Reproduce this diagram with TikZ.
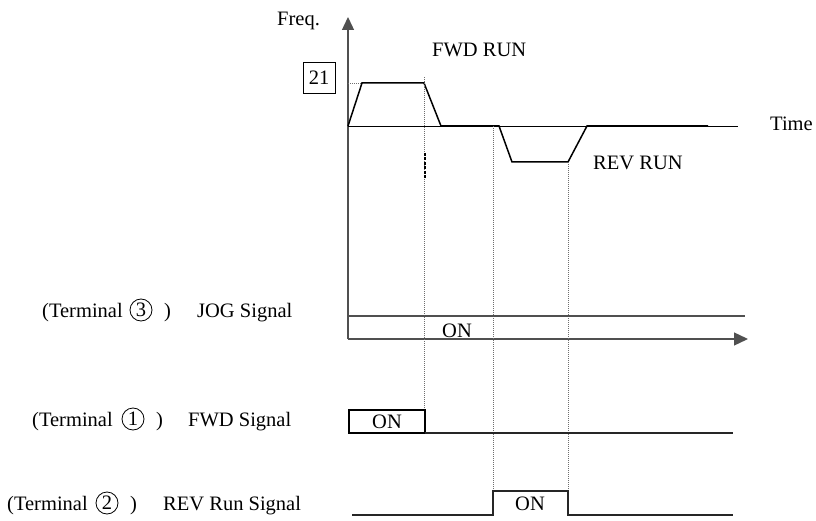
\documentclass[tikz,border=0pt]{standalone}
\usepackage{fontspec}
\setmainfont{Liberation Serif}
\usetikzlibrary{arrows.meta}
\definecolor{axisgray}{RGB}{80,80,80}
\definecolor{dotgray}{RGB}{110,110,110}
\begin{document}
\begin{tikzpicture}[x=1pt,y=-1pt,
  txt/.style={font=\fontsize{20.5}{24}\selectfont, inner sep=0pt, anchor=base west},
  ctxt/.style={font=\fontsize{20.5}{24}\selectfont, inner sep=0pt, anchor=base},
  circ/.style={circle, draw, line width=0.8pt, minimum size=22pt, inner sep=0pt, font=\fontsize{20.5}{24}\selectfont},
  axisline/.style={draw=axisgray, line width=1.3pt},
  trace/.style={draw=black, line width=1.5pt},
  guide/.style={draw=dotgray, line width=0.8pt, dash pattern=on 1pt off 1pt},
  sigline/.style={draw=black!85, line width=1.4pt},
]
\useasboundingbox (0,0) rectangle (816,521);

% axes
\coordinate (O) at (348,339);
\coordinate (Ytop) at (348,17);
\coordinate (Xend) at (748,339);
\draw[axisline,-{Triangle[length=13pt,width=12pt]}] (O) -- (Ytop);
\draw[axisline,-{Triangle[length=14pt,width=13pt]}] (O) -- (Xend);
\node[txt] (freq) at (277,26) {Freq.};

% time line
\coordinate (t0) at (348,126);
\coordinate (t1) at (738,126);
\draw[black, line width=0.8pt] (t0) -- (t1);
\node[txt] (time) at (770,131) {Time};

% frequency trace
\coordinate (f0) at (348,126);
\coordinate (f1) at (362,83);
\coordinate (f2) at (424,83);
\coordinate (f3) at (441,126);
\coordinate (r0) at (499,126);
\coordinate (r1) at (512,162);
\coordinate (r2) at (568,162);
\coordinate (r3) at (587,126);
\coordinate (r4) at (708,126);
\draw[trace] (f0) -- (f1) -- (f2) -- (f3) -- (r0) -- (r1) -- (r2) -- (r3) -- (r4);

\node[draw, line width=0.8pt, minimum width=32pt, minimum height=31pt, inner sep=0pt,
      font=\fontsize{20.5}{24}\selectfont] (b21) at (319,77.5) {21};
\coordinate (ya) at (348,83);
\draw[guide] (ya) -- (f1);

\node[txt] (fwdrun) at (432,57) {FWD RUN};
\node[txt] (revrun) at (593,170) {REV RUN};

% guide lines
\coordinate (g1t) at (424,77);
\coordinate (g1b) at (424,410);
\coordinate (g2t) at (493,126);
\coordinate (g2b) at (493,491);
\coordinate (g3t) at (568,162);
\coordinate (g3b) at (568,491);
\draw[guide] (g1t) -- (g1b);
\draw[guide] (g2t) -- (g2b);
\draw[guide] (g3t) -- (g3b);
\coordinate (k1) at (425,153);
\coordinate (k2) at (425,180);
\draw[black, line width=1.6pt, dash pattern=on 3pt off 1.5pt] (k1) -- (k2);

% JOG signal
\coordinate (j0) at (348,316);
\coordinate (j1) at (745,316);
\draw[sigline, draw=axisgray] (j0) -- (j1);
\node[ctxt] (jogon) at (457,337) {ON};
\node[txt] (l3a) at (42,317) {(Terminal};
\node[circ] (c3) at (141,310) {3};
\node[txt] (l3b) at (164,317) {)};
\node[txt] (l3c) at (197,317) {JOG Signal};

% FWD signal
\coordinate (a0) at (349,433);
\coordinate (a1) at (349,410);
\coordinate (a2) at (425,410);
\coordinate (a3) at (425,433);
\coordinate (a4) at (733,433);
\draw[black, line width=1.2pt] (a0) -- (a1) -- (a2) -- (a3) -- cycle;
\draw[sigline] (a3) -- (a4);
\node[ctxt] (fwdon) at (387,428) {ON};
\node[txt] (l1a) at (32,426) {(Terminal};
\node[circ] (c1) at (133,419) {1};
\node[txt] (l1b) at (156,426) {)};
\node[txt] (l1c) at (188,426) {FWD Signal};

% REV signal
\coordinate (s0) at (352,515);
\coordinate (s1) at (493,515);
\coordinate (s2) at (493,491);
\coordinate (s3) at (568,491);
\coordinate (s4) at (568,515);
\coordinate (s5) at (733,515);
\draw[sigline] (s0) -- (s1) -- (s2) -- (s3) -- (s4) -- (s5);
\node[ctxt] (revon) at (530,510) {ON};
\node[txt] (l2a) at (7,510) {(Terminal};
\node[circ] (c2) at (107,503) {2};
\node[txt] (l2b) at (130,510) {)};
\node[txt] (l2c) at (163,510) {REV Run Signal};
\end{tikzpicture}
\end{document}
